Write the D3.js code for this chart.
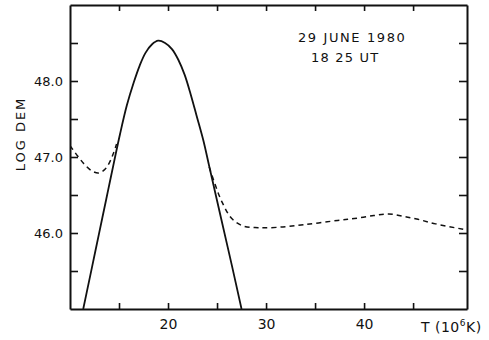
<!DOCTYPE html>
<html>
<head>
<meta charset="utf-8">
<script src="https://cdn.jsdelivr.net/npm/d3@7"></script>
<style>
  html, body { margin: 0; padding: 0; background: #fff; }
  svg { display: block; }
  text { font-family: "DejaVu Sans", sans-serif; fill: #111; }
</style>
</head>
<body>
<svg id="chart" width="489" height="340"></svg>
<script>
// ---- data ----
const xTicks = [15, 20, 25, 30, 35, 40, 45];
const xTickLabels = ["", "20", "", "30", "", "40", ""];
const yTicks = [45.5, 46.0, 46.5, 47.0, 47.5, 48.0, 48.5];
const yTickLabels = ["", "46.0", "", "47.0", "", "48.0", ""];

// solid curve: temperature (10^6 K) and log DEM
const solidT   = [11.35, 12.0, 12.6, 13.3, 13.9, 14.5, 15.1, 15.8, 16.5, 17.1, 17.7, 18.35, 19.0, 19.7, 20.4, 21.05, 21.7, 22.3, 22.9, 23.6, 24.2, 24.8, 25.4, 26.5, 27.5];
const solidLog = [45.0, 45.4, 45.77, 46.2, 46.57, 46.94, 47.3, 47.68, 47.98, 48.2, 48.37, 48.48, 48.53, 48.5, 48.42, 48.28, 48.08, 47.83, 47.55, 47.22, 46.88, 46.54, 46.2, 45.58, 45.0];

// dashed curve, low-temperature branch
const dashLeftT   = [10.0, 10.8, 11.5, 12.2, 12.9, 13.5, 14.0, 14.4, 14.75];
const dashLeftLog = [47.15, 47.01, 46.9, 46.82, 46.79, 46.83, 46.92, 47.04, 47.17];

// dashed curve, high-temperature branch
const dashRightT   = [24.2, 24.8, 25.5, 26.5, 27.7, 29.2, 31.2, 33.9, 37.3, 39.0, 41.0, 42.5, 44.0, 45.5, 47.3, 50.5];
const dashRightLog = [46.87, 46.64, 46.41, 46.19, 46.09, 46.07, 46.075, 46.11, 46.165, 46.19, 46.23, 46.25, 46.22, 46.18, 46.12, 46.04];

const xLabel = "T (10";
const xLabelSup = "6";
const xLabelEnd = "K)";
const yLabel = "LOG DEM";
const note1 = "29 JUNE 1980";
const note2 = "18 25 UT";

// ---- layout ----
const svg = d3.select("#chart");
const L = 70, R = 467, T = 5, B = 309;

const x = d3.scaleLinear().domain([10, 50.5]).range([L, R]);
const y = d3.scaleLinear().domain([45, 49]).range([B, T]);

const ink = "#111";

// clip
svg.append("defs").append("clipPath").attr("id", "clip")
  .append("rect").attr("x", L).attr("y", T).attr("width", R - L).attr("height", B - T);

// axes (ticks pointing inward)
function styleAxis(g) {
  g.select(".domain").attr("stroke", ink).attr("stroke-width", 2);
  g.selectAll(".tick line").attr("stroke", ink).attr("stroke-width", 1.6);
  g.selectAll("text").attr("fill", ink).attr("font-family", "DejaVu Sans, sans-serif");
}

const xb = svg.append("g").attr("transform", `translate(0,${B})`)
  .call(d3.axisBottom(x).tickValues(xTicks).tickSizeInner(-6).tickSizeOuter(0).tickPadding(10)
    .tickFormat((d, i) => xTickLabels[i]));
styleAxis(xb);
xb.selectAll("text").attr("font-size", 14);

const xt = svg.append("g").attr("transform", `translate(0,${T})`)
  .call(d3.axisTop(x).tickValues(xTicks).tickSizeInner(-6).tickSizeOuter(0).tickFormat(""));
styleAxis(xt);

const yl = svg.append("g").attr("transform", `translate(${L},0)`)
  .call(d3.axisLeft(y).tickValues(yTicks).tickSizeInner(-8).tickSizeOuter(0).tickPadding(7)
    .tickFormat((d, i) => yTickLabels[i]));
styleAxis(yl);
yl.selectAll("text").attr("font-size", 13);

const yr = svg.append("g").attr("transform", `translate(${R},0)`)
  .call(d3.axisRight(y).tickValues(yTicks).tickSizeInner(-8).tickSizeOuter(0).tickFormat(""));
styleAxis(yr);

// curves
const line = d3.line().x(d => x(d[0])).y(d => y(d[1])).curve(d3.curveCatmullRom.alpha(0.5));
const plot = svg.append("g").attr("clip-path", "url(#clip)");

plot.append("path")
  .datum(solidT.map((t, i) => [t, solidLog[i]]))
  .attr("d", line).attr("fill", "none").attr("stroke", ink).attr("stroke-width", 1.8);

plot.append("path")
  .datum(dashLeftT.map((t, i) => [t, dashLeftLog[i]]))
  .attr("d", line).attr("fill", "none").attr("stroke", ink).attr("stroke-width", 1.5)
  .attr("stroke-dasharray", "5,4");

plot.append("path")
  .datum(dashRightT.map((t, i) => [t, dashRightLog[i]]))
  .attr("d", line).attr("fill", "none").attr("stroke", ink).attr("stroke-width", 1.5)
  .attr("stroke-dasharray", "5,4");

// labels
svg.append("text")
  .attr("transform", `translate(25,134) rotate(-90)`)
  .attr("text-anchor", "middle").attr("font-size", 13).attr("letter-spacing", "2px")
  .text(yLabel);

const xl = svg.append("text").attr("x", 421).attr("y", 332).attr("font-size", 14).attr("letter-spacing", "0.5px");
xl.append("tspan").text(xLabel);
xl.append("tspan").attr("font-size", 9).attr("dy", -6).text(xLabelSup);
xl.append("tspan").attr("dy", 6).text(xLabelEnd);

svg.append("text").attr("x", 298).attr("y", 42).attr("font-size", 13).attr("letter-spacing", "1.6px").text(note1);
svg.append("text").attr("x", 311).attr("y", 62).attr("font-size", 13).attr("letter-spacing", "1.2px").text(note2);
</script>
</body>
</html>
